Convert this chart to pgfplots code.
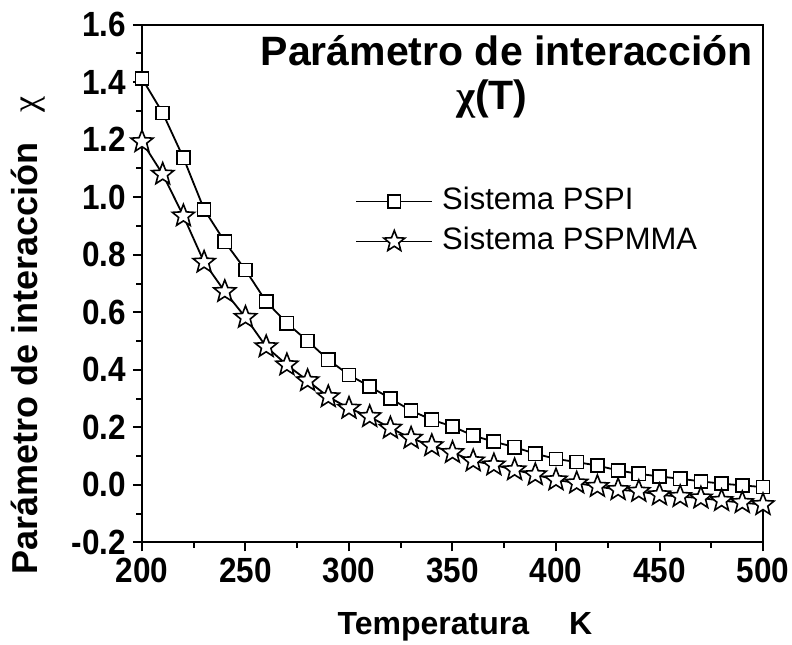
\documentclass[border=0pt]{standalone}
\usepackage{fontspec}
\setmainfont{Liberation Sans}
\newfontfamily\tickfont{Liberation Sans}[FakeStretch=0.9]
\newfontfamily\chifont{Liberation Serif}
\usepackage{pgfplots}
\pgfplotsset{compat=1.18}
\usepackage{pgfplotstable}

\pgfdeclareplotmark{pstar}{%
  \pgfpathmoveto{\pgfqpointpolar{90}{\pgfplotmarksize}}%
  \pgfpathlineto{\pgfqpointpolar{126}{0.43\pgfplotmarksize}}%
  \pgfpathlineto{\pgfqpointpolar{162}{\pgfplotmarksize}}%
  \pgfpathlineto{\pgfqpointpolar{198}{0.43\pgfplotmarksize}}%
  \pgfpathlineto{\pgfqpointpolar{234}{\pgfplotmarksize}}%
  \pgfpathlineto{\pgfqpointpolar{270}{0.43\pgfplotmarksize}}%
  \pgfpathlineto{\pgfqpointpolar{306}{\pgfplotmarksize}}%
  \pgfpathlineto{\pgfqpointpolar{342}{0.43\pgfplotmarksize}}%
  \pgfpathlineto{\pgfqpointpolar{18}{\pgfplotmarksize}}%
  \pgfpathlineto{\pgfqpointpolar{54}{0.43\pgfplotmarksize}}%
  \pgfpathclose
  \pgfusepathqfillstroke
}

\pgfplotstableread{
T chi
200 1.413
210 1.293
220 1.137
230 0.958
240 0.845
250 0.747
260 0.637
270 0.562
280 0.500
290 0.435
300 0.382
310 0.342
320 0.300
330 0.258
340 0.226
350 0.203
360 0.171
370 0.150
380 0.131
390 0.108
400 0.090
410 0.079
420 0.067
430 0.050
440 0.038
450 0.029
460 0.021
470 0.012
480 0.004
490 -0.002
500 -0.008
}\pspi

\pgfplotstableread{
T chi
200 1.193
210 1.080
220 0.935
230 0.774
240 0.672
250 0.582
260 0.480
270 0.417
280 0.362
290 0.306
300 0.266
310 0.237
320 0.197
330 0.162
340 0.136
350 0.112
360 0.083
370 0.069
380 0.052
390 0.035
400 0.017
410 0.006
420 -0.006
430 -0.017
440 -0.023
450 -0.035
460 -0.041
470 -0.046
480 -0.055
490 -0.062
500 -0.069
}\pspmma

\begin{document}
\begin{tikzpicture}
\path[use as bounding box] (-71pt,-50.85pt) rectangle (325pt,271.15pt);
\begin{axis}[
  at={(0,0)}, anchor=south west,
  scale only axis,
  width=310.5pt, height=258.8pt,
  xmin=200, xmax=500, ymin=-0.2, ymax=1.6,
  xtick={200,250,...,500},
  ytick={-0.2,0,0.2,0.4,0.6,0.8,1.0,1.2,1.4,1.6},
  minor x tick num=1, minor y tick num=1,
  tick pos=left, tick align=outside,
  major tick length=4.5pt, minor tick length=2.8pt,
  every tick/.style={line width=1pt, black},
  axis line style={line width=1pt},
  tick label style={font=\tickfont\bfseries\fontsize{17.5}{20}\selectfont},
  /pgf/number format/assume math mode=true,
  yticklabel style={/pgf/number format/.cd, fixed, fixed zerofill, precision=1},
  xticklabel style={/pgf/number format/.cd, fixed, precision=0, 1000 sep={}},
  xlabel={Temperatura\hspace{20pt}K},
  xlabel style={font=\bfseries\fontsize{16}{18}\selectfont, at={(axis description cs:0.52,0)}, anchor=base, yshift=-46.3pt},
  ylabel={Parámetro de interacción\hspace{15pt}{\chifont\mdseries χ}},
  ylabel style={font=\bfseries\fontsize{18}{20}\selectfont, at={(axis description cs:-0.169,0.40)}, anchor=base, rotate=0},
  legend style={draw=none, fill=none, at={(axis description cs:0.343,0.692)}, anchor=north west,
    font=\fontsize{15.5}{17}\selectfont, inner sep=0pt, row sep=3pt, column sep=3pt,
    nodes={inner sep=1.5pt, text height=11pt, text depth=3pt}},
  legend cell align=left,
  legend image code/.code={\draw[mark repeat=2,mark phase=2,#1, every mark/.append style={scale=0.95}] plot coordinates {(0pt,0pt)(19pt,0pt)(38pt,0pt)};},
]
\addplot[black, line width=0.9pt, mark=square*, mark size=3.3pt, mark options={fill=white, line width=0.8pt}] table[x=T,y=chi] {\pspi};
\addlegendentry{Sistema PSPI}
\addplot[black, line width=0.9pt, mark=pstar, mark size=5.8pt, mark options={fill=white, line width=0.8pt}] table[x=T,y=chi] {\pspmma};
\addlegendentry{Sistema PSPMMA}
\node[anchor=base, font=\bfseries\fontsize{20.5}{22}\selectfont] at (axis cs:376.3,1.457) {Parámetro de interacción};
\node[anchor=base, font=\bfseries\fontsize{20.5}{22}\selectfont] at (axis cs:369,1.304) {{\chifont χ}(T)};
\end{axis}
\end{tikzpicture}
\end{document}
